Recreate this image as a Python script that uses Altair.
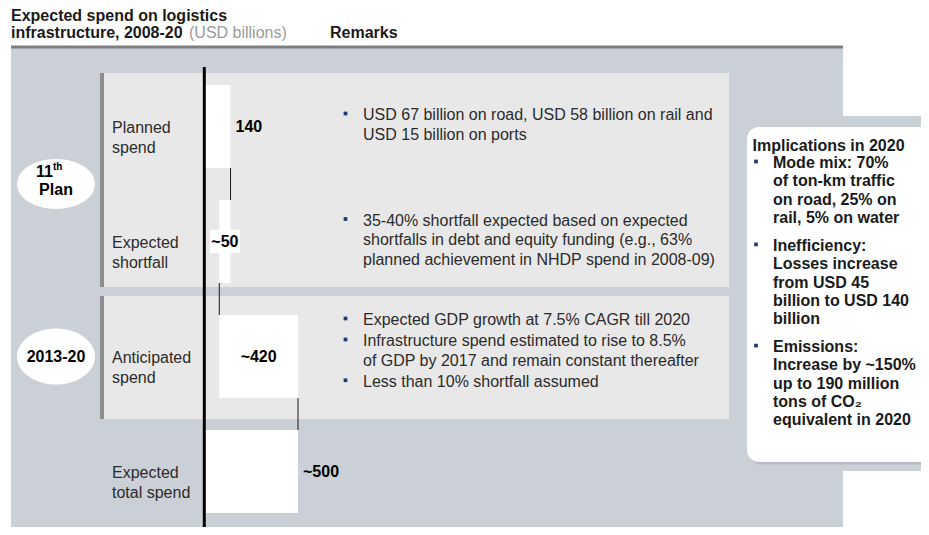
import altair as alt
import pandas as pd

# ---------------- chart values ----------------
categories = ["Planned spend", "Expected shortfall", "Anticipated spend", "Expected total spend"]
category_text = ["Planned\nspend", "Expected\nshortfall", "Anticipated\nspend", "Expected\ntotal spend"]
bar_start = [0, 80, 80, 0]
bar_end = [140, 140, 500, 500]
value_labels = ["140", "~50", "~420", "~500"]

plan_groups = ["11th Plan", "2013-20"]
plan_group_rows = [0.5, 2.0]
group_main = ["11", "2013-20"]
group_sup = ["th", ""]
group_second = ["Plan", ""]

title_lines = ["Expected spend on logistics", "infrastructure, 2008-20"]
title_unit = "(USD billions)"
remarks_header = "Remarks"

remark_rows = [0, 1, 2, 2, 2]
remark_bullets = [
    ["USD 67 billion on road, USD 58 billion on rail and", "USD 15 billion on ports"],
    ["35-40% shortfall expected based on expected",
     "shortfalls in debt and equity funding (e.g., 63%",
     "planned achievement in NHDP spend in 2008-09)"],
    ["Expected GDP growth at 7.5% CAGR till 2020"],
    ["Infrastructure spend estimated to rise to 8.5%",
     "of GDP by 2017 and remain constant thereafter"],
    ["Less than 10% shortfall assumed"],
]

impl_header = "Implications in 2020"
impl_bullets = [
    ["Mode mix: 70%", "of ton-km traffic", "on road, 25% on", "rail, 5% on water"],
    ["Inefficiency:", "Losses increase", "from USD 45", "billion to USD 140", "billion"],
    ["Emissions:", "Increase by ~150%", "up to 190 million", "tons of CO\u2082", "equivalent in 2020"],
]

# ---------------- layout / style ----------------
W, H = 913, 519
FONT = "Liberation Sans"
FS = 16
GREY_BG = "#CBD0D7"
PANEL = "#E8E8E8"
PANEL_EDGE = "#8E8E8E"
RULE_TOP = "#7F7F7F"
TEXT = "#1A1A1A"
LABEL_COL = "#2B2B2B"
BULLET = "#1F3B73"

X_RANGE = [196.3, 290]      # pixel span of value domain 0..500
Y_RANGE = [118.5, 463.5]    # pixel centres of rows 0..3
BAR_HALF = 0.361            # half bar height in row units
OUTSIDE_LABELS = {"Planned spend", "Expected total spend"}
BG_LABELS = {"Expected shortfall"}

xs = alt.Scale(domain=[0, 500], range=X_RANGE, nice=False, zero=False)
ys = alt.Scale(domain=[0, 3], range=Y_RANGE, nice=False, zero=False)
PX = alt.Scale(domain=[0, W], range=[0, W], nice=False, zero=False)
PY = alt.Scale(domain=[0, H], range=[0, H], nice=False, zero=False)

one = pd.DataFrame({"k": [0]})


def rect(x, x2, y, y2, color, **kw):
    return alt.Chart(one).mark_rect(color=color, **kw).encode(
        x=alt.value(x), x2=alt.value(x2), y=alt.value(y), y2=alt.value(y2))


# ---------------- background decoration ----------------
bg = alt.layer(
    rect(3, 835, 40, H, GREY_BG),
    rect(835, W + 10, 108, 463, GREY_BG),
    rect(3, 835, 37.5, 40.5, RULE_TOP),
    rect(92, 721, 65, 279, PANEL),
    rect(92, 721, 288, 411, PANEL),
    rect(92, 96, 65, 279, PANEL_EDGE),
    rect(92, 96, 288, 411, PANEL_EDGE),
    rect(741, W + 10, 121.5, 456.5, "#B7BCC4", cornerRadius=12),
    rect(739, W + 10, 119, 454, "white", cornerRadius=12),
)

# ---------------- data layers ----------------
rows = list(range(len(categories)))
bars = pd.DataFrame({"category": categories, "row": rows, "start": bar_start,
                     "end": bar_end, "label": value_labels, "text": category_text})
bars["top"] = bars["row"] - BAR_HALF
bars["bottom"] = bars["row"] + BAR_HALF
bars["mid"] = (bars["start"] + bars["end"]) / 2

con = []
for i in range(len(categories) - 1):
    shared = {bar_start[i], bar_end[i]} & {bar_start[i + 1], bar_end[i + 1]}
    v = max(shared) if shared else bar_end[i]
    con.append({"cx": v, "cy1": i + BAR_HALF, "cy2": i + 1 - BAR_HALF})
con = pd.DataFrame(con)

bar_layer = alt.Chart(bars).mark_rect(color="white").encode(
    x=alt.X("start:Q", scale=xs, axis=None), x2="end:Q",
    y=alt.Y("top:Q", scale=ys, axis=None), y2="bottom:Q")

con_layer = alt.Chart(con).mark_rule(color="#1A1A1A", strokeWidth=1).encode(
    x=alt.X("cx:Q", scale=xs, axis=None),
    y=alt.Y("cy1:Q", scale=ys, axis=None), y2="cy2:Q")

axis_layer = alt.Chart(pd.DataFrame({"v": [0]})).mark_rule(color="black", strokeWidth=3).encode(
    x=alt.X("v:Q", scale=xs, axis=None), y=alt.value(59), y2=alt.value(H))

out_df = bars[bars["category"].isin(OUTSIDE_LABELS)]
in_df = bars[~bars["category"].isin(OUTSIDE_LABELS)]
bg_df = bars[bars["category"].isin(BG_LABELS)]

label_bg = alt.Chart(bg_df).mark_point(
    shape="M -1 -0.77 L 1 -0.77 L 1 0.77 L -1 0.77 Z", size=900,
    filled=True, fill="white", opacity=1, strokeWidth=0).encode(
    x=alt.X("mid:Q", scale=xs, axis=None), y=alt.Y("row:Q", scale=ys, axis=None))

out_lab = alt.Chart(out_df).mark_text(font=FONT, fontSize=FS, fontWeight="bold", color="black",
                                      align="left", baseline="middle", dx=5).encode(
    x=alt.X("end:Q", scale=xs, axis=None), y=alt.Y("row:Q", scale=ys, axis=None), text="label:N")

in_lab = alt.Chart(in_df).mark_text(font=FONT, fontSize=FS, fontWeight="bold", color="black",
                                    align="center", baseline="middle").encode(
    x=alt.X("mid:Q", scale=xs, axis=None), y=alt.Y("row:Q", scale=ys, axis=None), text="label:N")

cat_lab = alt.Chart(bars).mark_text(font=FONT, fontSize=FS, color=LABEL_COL, align="left",
                                    baseline="middle", lineBreak="\n", lineHeight=20, dy=1).encode(
    x=alt.value(104), y=alt.Y("row:Q", scale=ys, axis=None), text="text:N")

k = 0.5523


def ellipse(r):
    return (f"M -1 0 C -1 {-k*r:.4f} {-k} {-r} 0 {-r} C {k} {-r} 1 {-k*r:.4f} 1 0 "
            f"C 1 {k*r:.4f} {k} {r} 0 {r} C {-k} {r} -1 {k*r:.4f} -1 0 Z")


groups = pd.DataFrame({"group": plan_groups, "row": plan_group_rows, "main": group_main,
                       "sup": group_sup, "second": group_second})
ell = alt.Chart(groups).mark_point(filled=True, fill="white", opacity=1, strokeWidth=0, size=78 ** 2).encode(
    x=alt.value(48), y=alt.Y("row:Q", scale=ys, axis=None),
    shape=alt.Shape("group:N", scale=alt.Scale(domain=plan_groups, range=[ellipse(0.64), ellipse(0.72)]),
                    legend=None))

two_line = groups[groups["second"] != ""]
one_line = groups[groups["second"] == ""]
gtxt = dict(font=FONT, fontWeight="bold", color="black", baseline="middle")
g1 = alt.Chart(one_line).mark_text(fontSize=FS, align="center", **gtxt).encode(
    x=alt.value(48), y=alt.Y("row:Q", scale=ys, axis=None), text="main:N")
g2a = alt.Chart(two_line).mark_text(fontSize=FS, align="right", dy=-12, **gtxt).encode(
    x=alt.value(45), y=alt.Y("row:Q", scale=ys, axis=None), text="main:N")
g2b = alt.Chart(two_line).mark_text(fontSize=10, align="left", dy=-17, **gtxt).encode(
    x=alt.value(45), y=alt.Y("row:Q", scale=ys, axis=None), text="sup:N")
g2c = alt.Chart(two_line).mark_text(fontSize=FS, align="center", dy=6, **gtxt).encode(
    x=alt.value(48), y=alt.Y("row:Q", scale=ys, axis=None), text="second:N")

data_layer = alt.layer(bar_layer, con_layer, axis_layer, label_bg, out_lab, in_lab, cat_lab,
                       ell, g1, g2a, g2b, g2c)

# ---------------- annotation text ----------------
REM_X_TEXT, REM_X_BUL = 355, 337.5
REM_TOPS = {0: 107, 1: 212.5, 2: 312}
REM_STEP, REM_GAP = 19.8, 1.2
rem_text, bullets_pts = [], []
y_next = {}
for r, lines in zip(remark_rows, remark_bullets):
    y = y_next.get(r, REM_TOPS[r])
    bullets_pts.append({"px": REM_X_BUL, "py": y - 1.5})
    for ln in lines:
        rem_text.append({"px": REM_X_TEXT, "py": y, "t": ln})
        y += REM_STEP
    y_next[r] = y + REM_GAP

IMP_X_TEXT, IMP_X_BUL = 765, 748
IMP_TOP, IMP_STEP, IMP_GAP = 155, 18.3, 9.7
bold_text = [
    {"px": 3, "py": 7.5, "t": title_lines[0]},
    {"px": 3, "py": 24.5, "t": title_lines[1]},
    {"px": 322, "py": 24.5, "t": remarks_header},
    {"px": 744.5, "py": 137.5, "t": impl_header},
]
y = IMP_TOP
for lines in impl_bullets:
    bullets_pts.append({"px": IMP_X_BUL, "py": y - 1.5})
    for ln in lines:
        bold_text.append({"px": IMP_X_TEXT, "py": y, "t": ln})
        y += IMP_STEP
    y += IMP_GAP

grey_text = [{"px": 181, "py": 24.5, "t": title_unit}]


def txt_layer(rows_, **mk):
    return alt.Chart(pd.DataFrame(rows_)).mark_text(
        font=FONT, fontSize=FS, align="left", baseline="middle", **mk).encode(
        x=alt.X("px:Q", scale=PX, axis=None), y=alt.Y("py:Q", scale=PY, axis=None), text="t:N")


bul_layer = alt.Chart(pd.DataFrame(bullets_pts)).mark_square(
    size=14, filled=True, color=BULLET, opacity=1).encode(
    x=alt.X("px:Q", scale=PX, axis=None), y=alt.Y("py:Q", scale=PY, axis=None))

ann_layer = alt.layer(
    txt_layer(rem_text, color=LABEL_COL),
    txt_layer(bold_text, color=TEXT, fontWeight="bold"),
    txt_layer(grey_text, color="#9A9A9A"),
    bul_layer,
)

chart = alt.layer(bg, data_layer, ann_layer).resolve_scale(
    x="independent", y="independent"
).properties(
    width=W, height=H, padding=0, autosize=alt.AutoSizeParams(type="none"), background="white"
).configure_view(stroke=None)

chart.save("out.html", embed_options={"renderer": "svg", "actions": False})
